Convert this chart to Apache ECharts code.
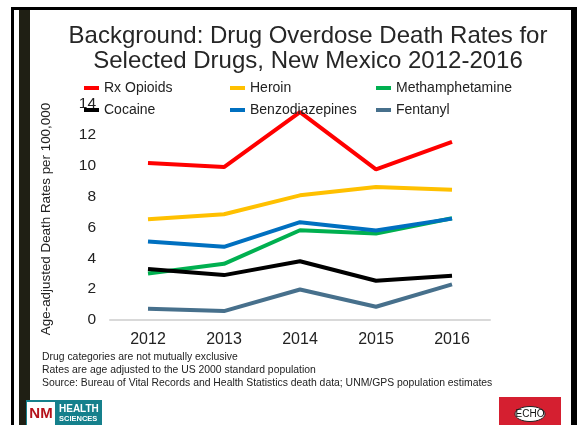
<!DOCTYPE html>
<html>
<head>
<meta charset="utf-8">
<script src="https://cdn.jsdelivr.net/npm/echarts@6/dist/echarts.min.js"></script>
<style>
html,body{margin:0;padding:0;background:#fff;}
#c{width:577px;height:425px;}
</style>
</head>
<body>
<div id="c"></div>
<script>
var years = ['2012', '2013', '2014', '2015', '2016'];
var yTicks = [0, 2, 4, 6, 8, 10, 12, 14];
var rxOpioids = [10.17, 9.91, 13.47, 9.76, 11.55];
var heroin = [6.53, 6.85, 8.08, 8.62, 8.45];
var methamphetamine = [3.02, 3.64, 5.82, 5.60, 6.59];
var cocaine = [3.30, 2.91, 3.81, 2.54, 2.87];
var benzodiazepines = [5.09, 4.74, 6.34, 5.80, 6.57];
var fentanyl = [0.73, 0.58, 1.98, 0.86, 2.31];
var seriesNames = ['Rx Opioids', 'Heroin', 'Methamphetamine', 'Cocaine', 'Benzodiazepines', 'Fentanyl'];
var seriesData = [rxOpioids, heroin, methamphetamine, cocaine, benzodiazepines, fentanyl];
var colors = ['#ff0000', '#ffc000', '#00b050', '#000000', '#0070c0', '#47708c'];
var footnotes = [
  'Drug categories are not mutually exclusive',
  'Rates are age adjusted to the US 2000 standard population',
  'Source: Bureau of Vital Records and Health Statistics death data; UNM/GPS population estimates'
];

var font = 'Liberation Sans, Arial, sans-serif';
var legendPos = [[84, 81], [230, 81], [376, 81], [84, 103], [230, 103], [376, 103]];
var legends = seriesNames.map(function (n, i) {
  return {
    data: [n], left: legendPos[i][0], top: legendPos[i][1], padding: 0,
    icon: 'rect', itemWidth: 15, itemHeight: 4, selectedMode: false,
    textStyle: { fontFamily: font, fontSize: 14, color: '#222222' }
  };
});

var chart = echarts.init(document.getElementById('c'));
chart.setOption({
  backgroundColor: '#ffffff',
  animation: false,
  color: colors,
  title: {
    text: 'Background: Drug Overdose Death Rates for\nSelected Drugs, New Mexico 2012-2016',
    left: 303, top: 19, textAlign: 'center',
    textStyle: { fontFamily: font, fontSize: 24, fontWeight: 'normal', color: '#262626', lineHeight: 25 }
  },
  legend: legends,
  grid: { left: 110, right: 87, top: 104, bottom: 105 },
  xAxis: {
    type: 'category', data: years, boundaryGap: true,
    axisLine: { lineStyle: { color: '#d9d9d9', width: 2 } },
    axisTick: { show: false },
    axisLabel: { fontFamily: font, fontSize: 16, color: '#222222', margin: 12 }
  },
  yAxis: {
    type: 'value', min: 0, max: 14, interval: 2,
    name: 'Age-adjusted Death Rates per 100,000',
    nameLocation: 'middle', nameGap: 57,
    nameTextStyle: { fontFamily: font, fontSize: 13.4, color: '#222222', padding: [0, 14, 0, 0] },
    axisLine: { show: false }, axisTick: { show: false }, splitLine: { show: false },
    axisLabel: { fontFamily: font, fontSize: 15.5, color: '#222222', margin: 14,
      formatter: function (v) { return yTicks.indexOf(v) >= 0 ? String(v) : ''; } }
  },
  series: seriesNames.map(function (n, i) {
    return {
      name: n, type: 'line', data: seriesData[i], symbol: 'none',
      lineStyle: { width: 4, color: colors[i] }, itemStyle: { color: colors[i] }
    };
  }),
  graphic: [
    { type: 'rect', shape: { x: 11, y: 7, width: 566, height: 3 }, style: { fill: '#000' } },
    { type: 'rect', shape: { x: 11, y: 7, width: 3, height: 418 }, style: { fill: '#000' } },
    { type: 'rect', shape: { x: 19, y: 10, width: 11, height: 415 }, style: { fill: '#1f1f14' } },
    { type: 'rect', shape: { x: 571, y: 7, width: 6, height: 418 }, style: { fill: '#000' } },
    { type: 'text', left: 42, top: 350,
      style: { text: footnotes.join('\n'), fontFamily: font, fontSize: 10.4, lineHeight: 13.3, fill: '#222' } },
    { type: 'rect', shape: { x: 26, y: 400, width: 76, height: 25 }, style: { fill: '#15808c' } },
    { type: 'rect', shape: { x: 27, y: 402, width: 28, height: 23 }, style: { fill: '#ffffff' } },
    { type: 'text', x: 41, y: 414, style: { text: 'NM', fontFamily: font, fontSize: 15, fontWeight: 'bold', fill: '#b5121b', align: 'center', verticalAlign: 'middle' } },
    { type: 'text', x: 59, y: 409, style: { text: 'HEALTH', fontFamily: font, fontSize: 10, fontWeight: 'bold', fill: '#ffffff', verticalAlign: 'middle' } },
    { type: 'text', x: 59, y: 419, style: { text: 'SCIENCES', fontFamily: font, fontSize: 7.5, fontWeight: 'bold', fill: '#ffffff', verticalAlign: 'middle' } },
    { type: 'rect', shape: { x: 499, y: 397, width: 62, height: 28 }, style: { fill: '#d51f30' } },
    { type: 'ellipse', shape: { cx: 530, cy: 414, rx: 15, ry: 7.5 }, style: { fill: '#ffffff', stroke: '#222', lineWidth: 1 } },
    { type: 'text', x: 530, y: 414, style: { text: 'ECHO', fontFamily: font, fontSize: 10, fill: '#111', align: 'center', verticalAlign: 'middle' } }
  ]
});
</script>
</body>
</html>
